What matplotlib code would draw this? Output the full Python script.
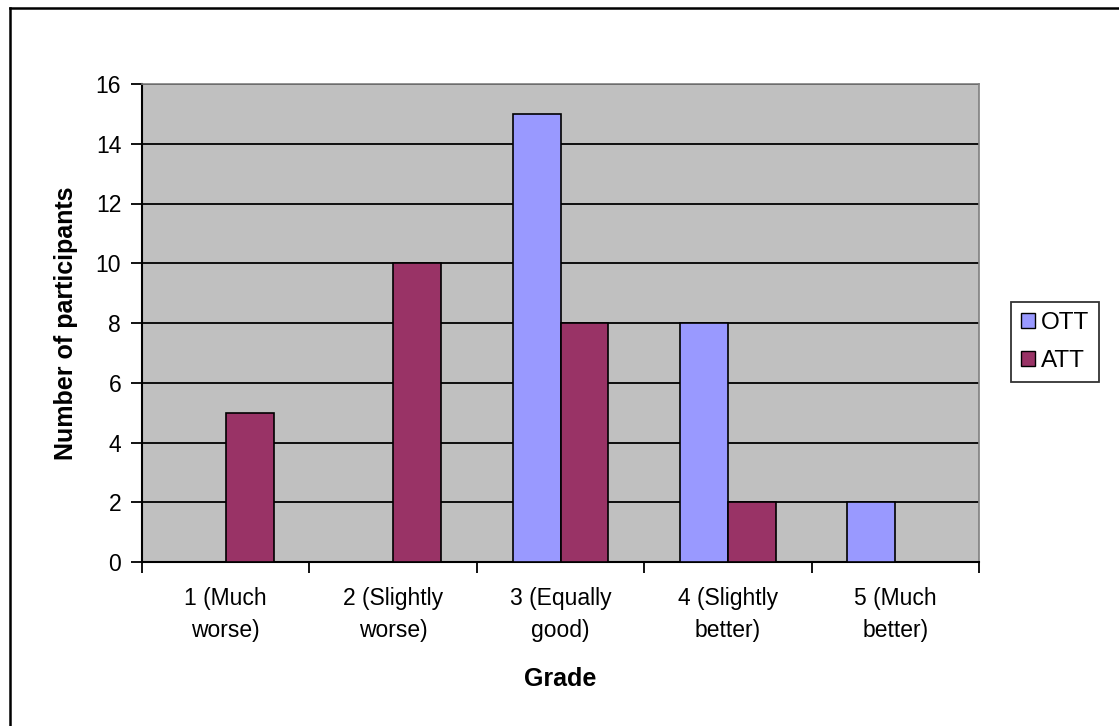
import matplotlib
matplotlib.use("Agg")
import matplotlib.pyplot as plt
import numpy as np
from matplotlib.lines import Line2D

grades = ["1 (Much\nworse)", "2 (Slightly\nworse)", "3 (Equally\ngood)",
          "4 (Slightly\nbetter)", "5 (Much\nbetter)"]
ott = [0, 0, 15, 8, 2]
att = [5, 10, 8, 2, 0]

plt.rcParams["font.family"] = ["Liberation Sans", "DejaVu Sans"]

W, H = 1119, 726
fig = plt.figure(figsize=(W / 100, H / 100), dpi=100)
ax = fig.add_axes([142 / W, 1 - 562 / H, (979 - 142) / W, (562 - 84) / H])
ax.set_facecolor("#C0C0C0")

x = np.arange(len(grades))
width = 1 / 3.5
ax.bar(x - width / 2, ott, width, color="#9999FF", edgecolor="black", linewidth=1.2,
       label="OTT", zorder=3)
ax.bar(x + width / 2, att, width, color="#993366", edgecolor="black", linewidth=1.2,
       label="ATT", zorder=3)

ax.set_xlim(-0.5, len(grades) - 0.5)
ax.set_ylim(0, 16)
ax.set_yticks(range(0, 17, 2))
ax.yaxis.grid(True, color="black", linewidth=1.3, zorder=1)
ax.set_axisbelow(True)

# boundary ticks between categories, labels centred under each group
ax.set_xticks(np.arange(-0.5, len(grades)), minor=False)
ax.set_xticklabels([])
ax.set_xticks(x, minor=True)
ax.set_xticklabels(grades, minor=True, fontsize=16.5, linespacing=1.52)
ax.tick_params(axis="x", which="minor", length=0, pad=18)
ax.tick_params(axis="x", which="major", direction="out", length=8, width=1.3)
ax.tick_params(axis="y", direction="out", length=8, width=1.3, labelsize=16.5, pad=7)

for side in ("left", "bottom"):
    ax.spines[side].set_linewidth(1.5)
    ax.spines[side].set_color("black")
for side in ("top", "right"):
    ax.spines[side].set_linewidth(1.2)
    ax.spines[side].set_color("#808080")

ax.set_xlabel("Grade", fontsize=18, fontweight="bold", labelpad=18)
ax.set_ylabel("Number of participants", fontsize=18, fontweight="bold", labelpad=13)

leg = fig.legend(loc="center", bbox_to_anchor=(1055 / W, 1 - 342 / H), fontsize=17.5,
                 frameon=True, fancybox=False, edgecolor="black", handlelength=0.6,
                 handleheight=0.6, handletextpad=0.25, borderpad=0.4,
                 labelspacing=0.65, borderaxespad=0)
leg.get_frame().set_linewidth(1.3)
for patch in leg.get_patches():
    patch.set_edgecolor("black")
    patch.set_linewidth(1.0)

# chart-area frame, top and left edges only
fig.add_artist(Line2D([10 / W, 1], [1 - 8 / H, 1 - 8 / H], color="black", linewidth=1.8,
                      transform=fig.transFigure))
fig.add_artist(Line2D([10 / W, 10 / W], [0, 1 - 8 / H], color="black", linewidth=1.8,
                      transform=fig.transFigure))

fig.savefig("out.png", dpi=100)
